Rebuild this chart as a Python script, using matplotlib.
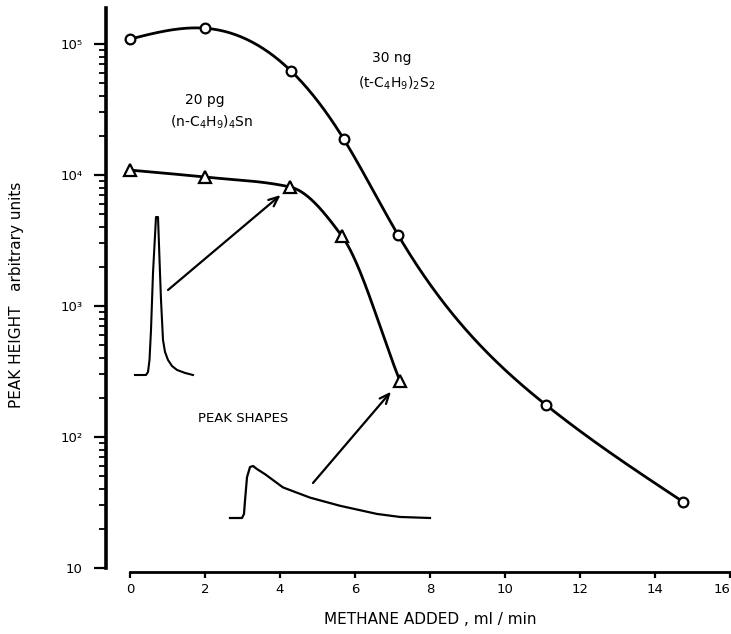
import numpy as np
import matplotlib
matplotlib.use("Agg")
import matplotlib.pyplot as plt
from matplotlib.ticker import LogLocator, NullFormatter, FixedLocator
import matplotlib.transforms as mtransforms

# ---------------- data ----------------
methane_sulfide = [0.0, 2.0, 4.3, 5.7, 7.15, 11.1, 14.75]
height_sulfide = [1.09e5, 1.32e5, 6.2e4, 1.88e4, 3.48e3, 175, 32]

methane_tin = [0.0, 2.0, 4.27, 5.65, 7.2]
height_tin = [1.09e4, 9.65e3, 8.1e3, 3.42e3, 267]

x_ticks = [0, 2, 4, 6, 8, 10, 12, 14, 16]
y_ticks = [10, 1e2, 1e3, 1e4, 1e5]
y_tick_labels = ["10", "10²", "10³", "10⁴", "10⁵"]

# schematic peak shapes (relative time, relative signal)
narrow_t = [0, 11, 13, 14.5, 16, 18, 21, 23, 25, 26, 28, 30, 33, 37, 42, 50, 58]
narrow_s = [0, 0, 0.019, 0.095, 0.285, 0.646, 1.0, 1.0, 0.646, 0.475, 0.222,
            0.146, 0.095, 0.057, 0.032, 0.013, 0]
wide_t = [0, 12, 14, 15, 17, 20, 23, 27, 35, 53, 80, 110, 147, 170, 200]
wide_s = [0, 0, 0.078, 0.333, 0.784, 0.98, 1.0, 0.941, 0.843, 0.588, 0.392,
          0.235, 0.078, 0.02, 0.0]


def natural_spline(x, y, n=400):
    x = np.asarray(x, float)
    y = np.asarray(y, float)
    m = len(x)
    h = np.diff(x)
    A = np.zeros((m, m))
    b = np.zeros(m)
    A[0, 0] = 1
    A[-1, -1] = 1
    for i in range(1, m - 1):
        A[i, i - 1] = h[i - 1]
        A[i, i] = 2 * (h[i - 1] + h[i])
        A[i, i + 1] = h[i]
        b[i] = 6 * ((y[i + 1] - y[i]) / h[i] - (y[i] - y[i - 1]) / h[i - 1])
    M = np.linalg.solve(A, b)
    xs = np.linspace(x[0], x[-1], n)
    ys = np.empty_like(xs)
    for k, xv in enumerate(xs):
        i = min(np.searchsorted(x, xv, side="right") - 1, m - 2)
        t1 = x[i + 1] - xv
        t0 = xv - x[i]
        ys[k] = (M[i] * t1 ** 3 / (6 * h[i]) + M[i + 1] * t0 ** 3 / (6 * h[i])
                 + (y[i] / h[i] - M[i] * h[i] / 6) * t1
                 + (y[i + 1] / h[i] - M[i + 1] * h[i] / 6) * t0)
    return xs, ys


def pchip(x, y, n=400):
    x = np.asarray(x, float)
    y = np.asarray(y, float)
    h = np.diff(x)
    d = np.diff(y) / h
    m = np.zeros_like(y)
    for i in range(1, len(x) - 1):
        if d[i - 1] * d[i] <= 0:
            m[i] = 0
        else:
            w1 = 2 * h[i] + h[i - 1]
            w2 = h[i] + 2 * h[i - 1]
            m[i] = (w1 + w2) / (w1 / d[i - 1] + w2 / d[i])
    m[0] = d[0]
    m[-1] = d[-1]
    xs = np.linspace(x[0], x[-1], n)
    ys = np.empty_like(xs)
    for k, xv in enumerate(xs):
        i = min(np.searchsorted(x, xv, side="right") - 1, len(x) - 2)
        t = (xv - x[i]) / h[i]
        h00 = 2 * t ** 3 - 3 * t ** 2 + 1
        h10 = t ** 3 - 2 * t ** 2 + t
        h01 = -2 * t ** 3 + 3 * t ** 2
        h11 = t ** 3 - t ** 2
        ys[k] = h00 * y[i] + h10 * h[i] * m[i] + h01 * y[i + 1] + h11 * h[i] * m[i + 1]
    return xs, ys


plt.rcParams["font.family"] = ["DejaVu Sans"]

W, H = 731, 634
fig = plt.figure(figsize=(W / 100, H / 100), dpi=100)
ax = fig.add_axes([106 / W, 1 - 568 / H, 624 / W, 560 / H])
ax.set_yscale("log")
ax.set_xlim(-24 / 37.5, 16)
ax.set_ylim(10, 10 ** (1 + 560 / 131))

# curves
cx, cy = natural_spline(methane_sulfide, np.log10(height_sulfide))
ax.plot(cx, 10 ** cy, color="black", lw=2.0, zorder=2, solid_capstyle="round")
ax.plot(methane_sulfide, height_sulfide, linestyle="none", marker="o", ms=7,
        mfc="white", mec="black", mew=1.6, zorder=3, clip_on=False)

tx, ty = pchip(methane_tin, np.log10(height_tin))
ax.plot(tx, 10 ** ty, color="black", lw=2.0, zorder=2, solid_capstyle="round")
ax.plot(methane_tin, height_tin, linestyle="none", marker="^", ms=8,
        mfc="white", mec="black", mew=1.6, zorder=3, clip_on=False)

# spines
for s in ["top", "right"]:
    ax.spines[s].set_visible(False)
ax.spines["left"].set_linewidth(2.6)
ax.spines["left"].set_bounds(10, 10 ** (1 + 560 / 131))
ax.spines["bottom"].set_linewidth(2.0)
ax.spines["bottom"].set_position(("outward", 3))
ax.spines["bottom"].set_bounds(0, 16)

ax.yaxis.set_major_locator(FixedLocator(y_ticks))
ax.set_yticklabels(y_tick_labels)
ax.yaxis.set_minor_locator(LogLocator(base=10, subs=np.arange(2, 10)))
ax.yaxis.set_minor_formatter(NullFormatter())
ax.tick_params(axis="y", which="major", direction="out", length=9, width=1.6,
               labelsize=9.5, pad=8)
ax.tick_params(axis="y", which="minor", direction="out", length=5, width=1.3)
ax.set_xticks(x_ticks)
ax.set_xticklabels([str(v) for v in x_ticks])
ax.tick_params(axis="x", which="major", direction="out", length=4, width=1.6,
               labelsize=9.5, pad=4)
# keep the last label inside the picture
last = ax.get_xticklabels()[-1]
last.set_transform(last.get_transform() +
                   mtransforms.ScaledTranslation(-8 / 100, 0, fig.dpi_scale_trans))

ax.set_xlabel("METHANE ADDED , ml / min", fontsize=11)
ax.xaxis.set_label_coords((430 - 106) / 624, (568 - 612) / 560)
ax.set_ylabel("PEAK HEIGHT   arbitrary units", fontsize=11)
ax.yaxis.set_label_coords((24 - 106) / 624, (568 - 295) / 560)

# annotations
def afrac(px, py):
    return ((px - 106) / 624, (568 - py) / 560)

ax.text(*afrac(392, 58), "30 ng", transform=ax.transAxes, ha="center",
        va="center", fontsize=10)
ax.text(*afrac(397, 83), r"(t-C$_4$H$_9$)$_2$S$_2$", transform=ax.transAxes,
        ha="center", va="center", fontsize=10)
ax.text(*afrac(205, 100), "20 pg", transform=ax.transAxes, ha="center",
        va="center", fontsize=10)
ax.text(*afrac(212, 122), r"(n-C$_4$H$_9$)$_4$Sn", transform=ax.transAxes,
        ha="center", va="center", fontsize=10)
ax.text(*afrac(243, 419), "PEAK SHAPES", transform=ax.transAxes, ha="center",
        va="center", fontsize=9.5)

arrow = dict(arrowstyle="->,head_length=0.7,head_width=0.3", lw=1.6,
             color="black", shrinkA=0, shrinkB=9)
ax.annotate("", xy=(methane_tin[2], height_tin[2]), xycoords="data",
            xytext=afrac(168, 290), textcoords="axes fraction",
            arrowprops=arrow)
ax.annotate("", xy=(methane_tin[4], height_tin[4]), xycoords="data",
            xytext=afrac(313, 483), textcoords="axes fraction",
            arrowprops=dict(arrow, shrinkB=10))

# peak shape insets
ins1 = fig.add_axes([135 / W, 1 - 375 / H, 58 / W, 158 / H])
ins1.plot(narrow_t, narrow_s, color="black", lw=1.5, clip_on=False)
ins1.set_xlim(0, 58)
ins1.set_ylim(0, 1)
ins1.axis("off")

ins2 = fig.add_axes([230 / W, 1 - 518 / H, 200 / W, 52 / H])
ins2.plot(wide_t, wide_s, color="black", lw=1.6, clip_on=False)
ins2.set_xlim(0, 200)
ins2.set_ylim(0, 1)
ins2.axis("off")

fig.savefig("out.png", dpi=100)
